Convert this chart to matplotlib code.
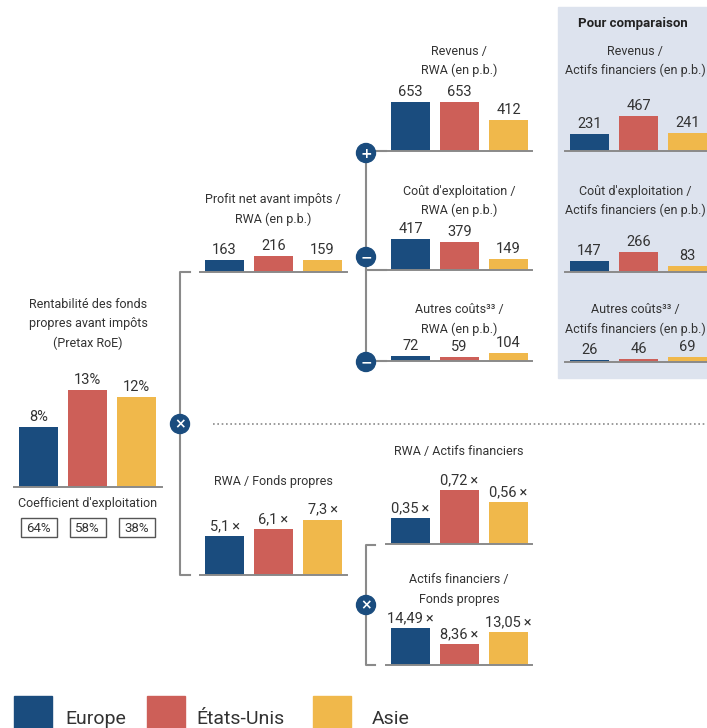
import matplotlib.pyplot as plt
from matplotlib.patches import Circle, Rectangle

plt.rcParams['font.family'] = ['Roboto', 'DejaVu Sans']

W, H = 707, 728

regions = ['Europe', 'États-Unis', 'Asie']
colors = ['#1a4c7e', '#cd5f58', '#f0b84b']
ink = '#333333'
rule = '#8a8a8a'
navy = '#1a4c7e'

roe = [8, 13, 12]
cost_income = [64, 58, 38]
profit_rwa = [163, 216, 159]
revenue_rwa = [653, 653, 412]
opex_rwa = [417, 379, 149]
other_rwa = [72, 59, 104]
revenue_assets = [231, 467, 241]
opex_assets = [147, 266, 83]
other_assets = [26, 46, 69]
rwa_equity = [5.1, 6.1, 7.3]
rwa_assets = [0.35, 0.72, 0.56]
assets_equity = [14.49, 8.36, 13.05]

fig = plt.figure(figsize=(W / 100, H / 100), dpi=100)
bg = fig.add_axes([0, 0, 1, 1])
bg.set_xlim(0, W)
bg.set_ylim(H, 0)
bg.axis('off')


def times(v, nd):
    return f'{v:.{nd}f}'.replace('.', ',') + '\u2009×'


def panel(x0, x1, base, scale, values, labels, top=80):
    # bars sit on a baseline running from x0 to x1 (pixels), scale = px per unit
    ax = fig.add_axes([x0 / W, 1 - base / H, (x1 - x0) / W, top / H])
    ax.set_xlim(-0.5, -0.5 + (x1 - x0) / 49)
    ax.set_ylim(0, top / scale)
    ax.bar(range(3), values, width=0.8, color=colors, zorder=2)
    ax.axhline(0, color=rule, lw=1.4, clip_on=False, zorder=3)
    for i, (v, lab) in enumerate(zip(values, labels)):
        ax.annotate(lab, (i, v), xytext=(0, 2), textcoords='offset points',
                    ha='center', va='bottom', fontsize=10.5, color=ink,
                    annotation_clip=False)
    ax.axis('off')
    return ax


def title(x, y, lines, size=9, **kw):
    for k, line in enumerate(lines):
        bg.text(x, y + k * 19, line, ha='center', va='center', fontsize=size,
                color=ink, **kw)


def badge(x, y, sym):
    bg.add_patch(Circle((x, y), 9.5, color=navy, zorder=5))
    bg.text(x, y + 0.5, sym, ha='center', va='center', color='white',
            fontsize=10, fontweight='bold', zorder=6, family='DejaVu Sans')


# comparison background
bg.add_patch(Rectangle((558, 7), 149, 371, color='#dde3ee', zorder=0))
bg.text(633, 24, 'Pour comparaison', ha='center', va='center', fontsize=9.5,
        fontweight='bold', color='#222222')

# connectors
bg.plot([190, 180, 180, 190], [272, 272, 575, 575], color=rule, lw=1.5)
bg.plot([366, 366], [153, 362], color=rule, lw=1.5)
for yb in (151, 270, 361):
    bg.plot([366, 386], [yb, yb], color=rule, lw=1.5)
bg.plot([375, 366, 366, 375], [545, 545, 665, 665], color=rule, lw=1.5)
bg.plot([213, 707], [424, 424], color=rule, lw=1.2, ls=(0, (1, 1.6)))

badge(180, 424, '×')
badge(366, 153, '+')
badge(366, 257, '−')
badge(366, 362, '−')
badge(366, 605, '×')

# pretax RoE
panel(14, 162, 487, 7.5, roe, [f'{v}%' for v in roe], top=120)
title(88, 305, ['Rentabilité des fonds', 'propres avant impôts', '(Pretax RoE)'])
bg.text(88, 503, "Coefficient d'exploitation", ha='center', va='center',
        fontsize=9, color=ink)
for i, v in enumerate(cost_income):
    cx = 38.5 + 49 * i
    bg.add_patch(Rectangle((cx - 18, 518), 36, 19, fill=False, ec='#555555', lw=1))
    bg.text(cx, 528, f'{v}%', ha='center', va='center', fontsize=9.5, color=ink)

# profit / RWA
panel(200, 347, 272, 0.075, profit_rwa, [str(v) for v in profit_rwa])
title(273, 200, ['Profit net avant impôts /', 'RWA (en p.b.)'])

# revenue, cost, other / RWA
panel(386, 532, 151, 0.075, revenue_rwa, [str(v) for v in revenue_rwa])
title(459, 51, ['Revenus /', 'RWA (en p.b.)'])
panel(386, 532, 270, 0.075, opex_rwa, [str(v) for v in opex_rwa])
title(459, 191, ["Coût d'exploitation /", 'RWA (en p.b.)'])
panel(386, 532, 361, 0.075, other_rwa, [str(v) for v in other_rwa])
title(459, 310, ['Autres coûts³³ /', 'RWA (en p.b.)'])

# same ratios over financial assets
panel(565, 707, 151, 0.075, revenue_assets, [str(v) for v in revenue_assets])
title(635, 51, ['Revenus /', 'Actifs financiers (en p.b.)'])
panel(565, 707, 272, 0.075, opex_assets, [str(v) for v in opex_assets])
title(635, 191, ["Coût d'exploitation /", 'Actifs financiers (en p.b.)'])
panel(565, 707, 362, 0.075, other_assets, [str(v) for v in other_assets])
title(635, 310, ['Autres coûts³³ /', 'Actifs financiers (en p.b.)'])

# leverage branch
panel(200, 347, 575, 7.6, rwa_equity, [times(v, 1) for v in rwa_equity])
title(273, 481, ['RWA / Fonds propres'])
panel(386, 532, 544, 75, rwa_assets, [times(v, 2) for v in rwa_assets])
title(459, 452, ['RWA / Actifs financiers'])
panel(386, 532, 665, 2.55, assets_equity, [times(v, 2) for v in assets_equity])
title(459, 580, ['Actifs financiers /', 'Fonds propres'])

# legend
for x, c, name, tx in zip([14, 147, 313], colors, regions, [65, 196, 372]):
    bg.add_patch(Rectangle((x, 696), 38, 34, color=c))
    bg.text(tx, 724, name, ha='left', va='baseline', fontsize=14, color=ink)

fig.savefig('out.png', dpi=100)
